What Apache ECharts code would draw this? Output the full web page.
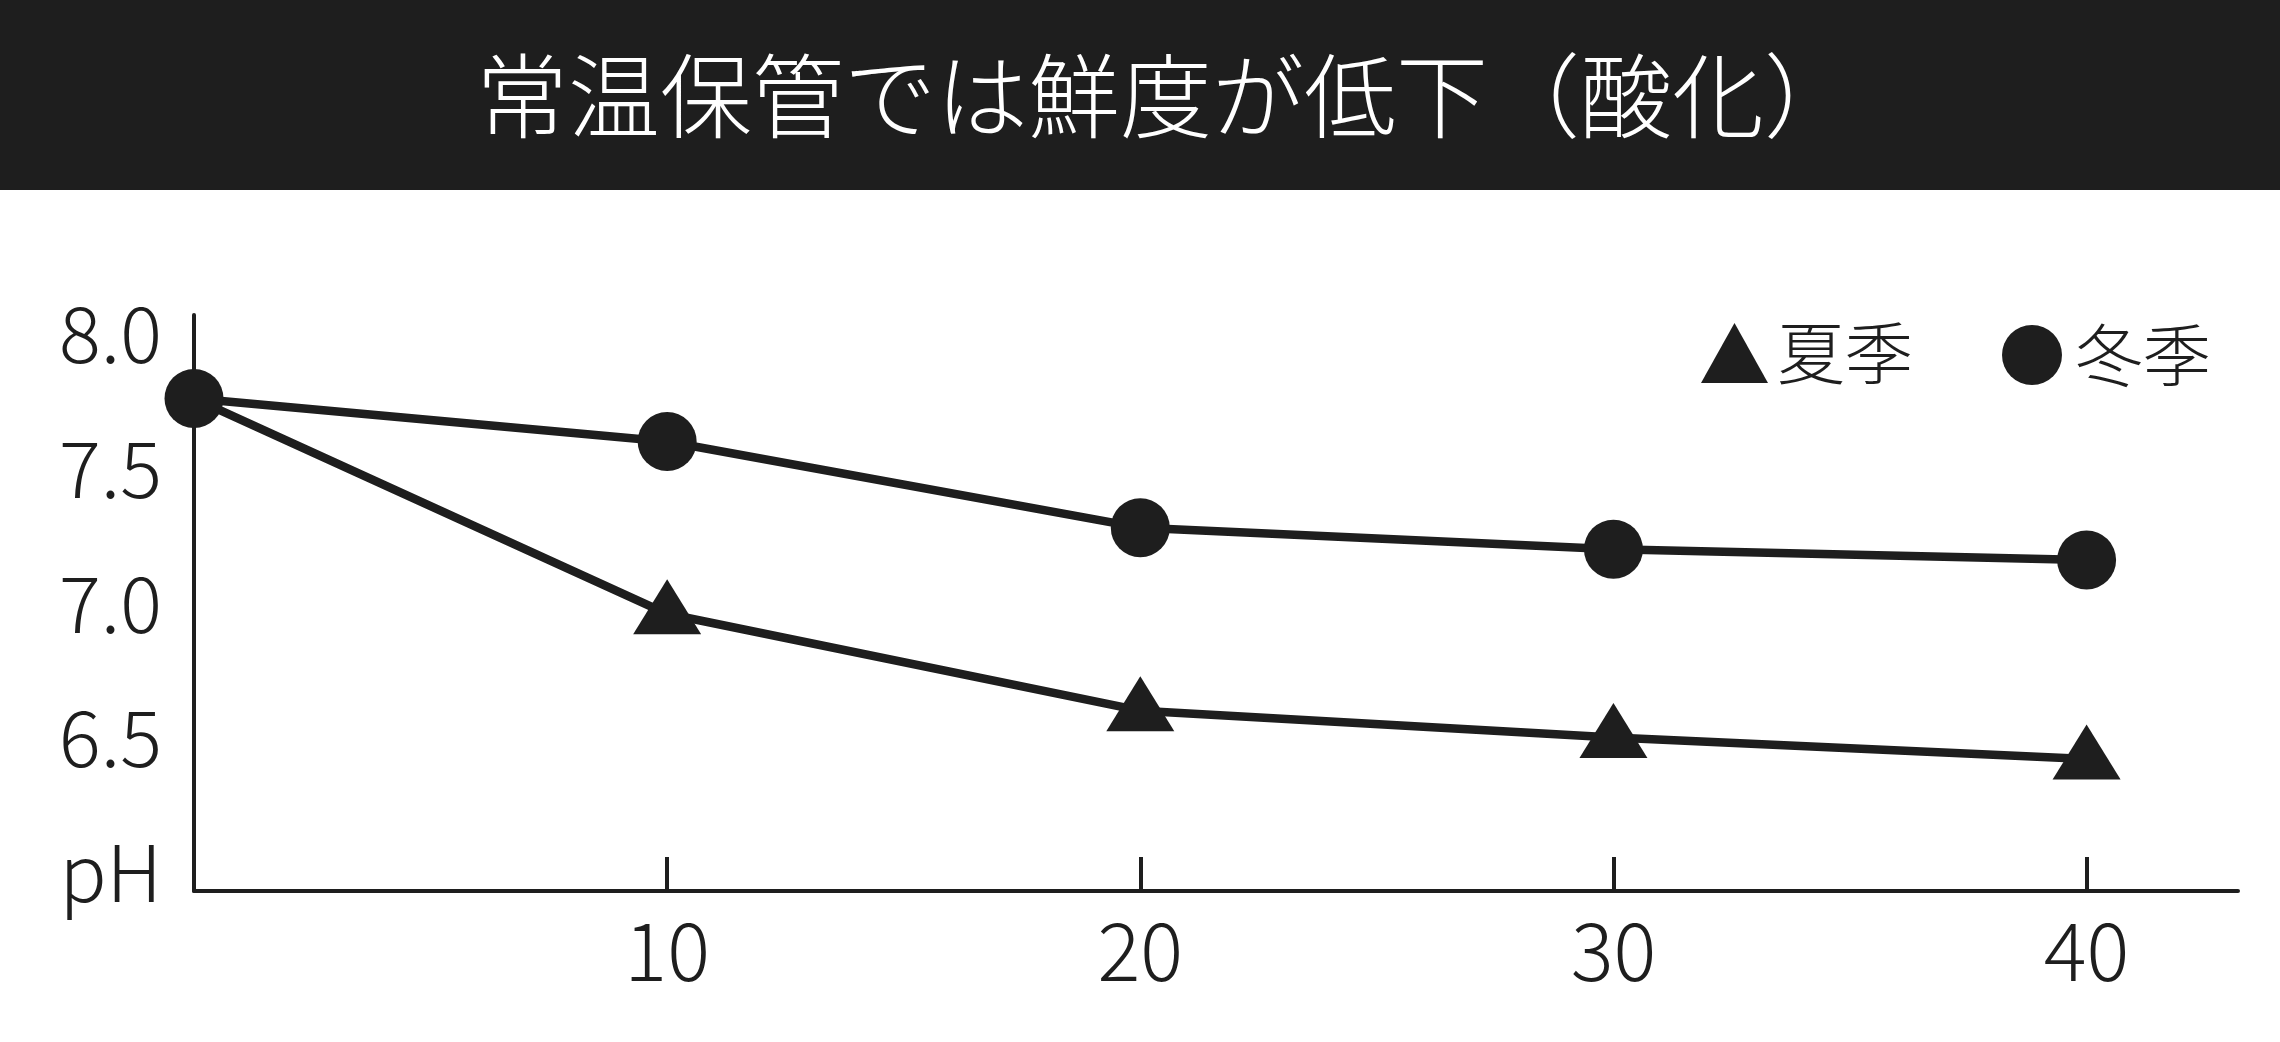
<!DOCTYPE html>
<html>
<head>
<meta charset="utf-8">
<script src="https://cdn.jsdelivr.net/npm/echarts@6/dist/echarts.min.js"></script>
<style>
html,body{margin:0;padding:0;background:#fff;}
#chart{width:2280px;height:1042px;}
</style>
</head>
<body>
<div id="chart"></div>
<script>
const titleText = '常温保管では鮮度が低下（酸化）';
const days = [0, 10, 20, 30, 40];
const summerPH = [7.76, 6.96, 6.60, 6.50, 6.42];
const winterPH = [7.76, 7.60, 7.28, 7.20, 7.16];
const xTickValues = [10, 20, 30, 40];
const yTickValues = [6.0, 6.5, 7.0, 7.5, 8.0];
const yTickLabels = ['pH', '6.5', '7.0', '7.5', '8.0'];
const seriesNames = ['夏季', '冬季'];

const INK = '#1e1e1e';
const FONT = '"Noto Sans CJK JP", "Noto Sans", sans-serif';

const chart = echarts.init(document.getElementById('chart'), null, {renderer: 'canvas'});
const pair = (xs, ys) => xs.map((x, i) => [x, ys[i]]);

chart.setOption({
  animation: false,
  backgroundColor: '#ffffff',
  graphic: [
    {type: 'rect', shape: {x: 0, y: 0, width: 2280, height: 190}, style: {fill: INK}, z: 0},
    {type: 'text', x: 1166, y: 96, z: 1,
     style: {text: titleText, fill: '#ffffff', font: '300 92px ' + FONT, align: 'center', verticalAlign: 'middle'}}
  ],
  grid: {left: 194, right: 42, top: 315, bottom: 151, containLabel: false},
  legend: [
    {data: [{name: seriesNames[0], icon: 'triangle'}], left: 1696, top: 314,
     itemWidth: 67, itemHeight: 60, itemGap: 0,
     textStyle: {fontSize: 68, fontWeight: 300, color: INK, fontFamily: FONT, padding: [0, 0, 0, 4]},
     itemStyle: {color: INK}},
    {data: [{name: seriesNames[1], icon: 'circle'}], left: 1997, top: 316,
     itemWidth: 60, itemHeight: 60, itemGap: 0,
     textStyle: {fontSize: 68, fontWeight: 300, color: INK, fontFamily: FONT, padding: [0, 0, 0, 8]},
     itemStyle: {color: INK}}
  ],
  xAxis: {
    type: 'value', min: 0, max: 43.2,
    axisLine: {show: true, onZero: false, lineStyle: {color: INK, width: 4}},
    axisTick: {show: true, inside: true, length: 34, customValues: xTickValues, lineStyle: {color: INK, width: 4}},
    axisLabel: {show: true, customValues: xTickValues, margin: 20, fontSize: 80, fontWeight: 300, color: INK, fontFamily: FONT,
                formatter: v => String(v)},
    splitLine: {show: false}
  },
  yAxis: {
    type: 'value', min: 5.93, max: 8.07,
    axisLine: {show: true, onZero: false, lineStyle: {color: INK, width: 4}},
    axisTick: {show: false},
    axisLabel: {show: true, customValues: yTickValues, margin: 32, fontSize: 78, fontWeight: 300, color: INK, fontFamily: FONT,
                formatter: v => {
                  const i = yTickValues.findIndex(t => Math.abs(t - v) < 1e-6);
                  return i >= 0 ? yTickLabels[i] : '';
                }},
    splitLine: {show: false}
  },
  series: [
    {
      name: seriesNames[0], type: 'line', data: pair(days, summerPH),
      symbol: (val, p) => p.dataIndex === 0 ? 'none' : 'triangle',
      symbolSize: [68, 55], symbolOffset: [0, -7], symbolKeepAspect: false,
      showAllSymbol: true,
      lineStyle: {color: INK, width: 8.5}, itemStyle: {color: INK}, z: 2
    },
    {
      name: seriesNames[1], type: 'line', data: pair(days, winterPH),
      symbol: 'circle', symbolSize: 59, showAllSymbol: true,
      lineStyle: {color: INK, width: 8.5}, itemStyle: {color: INK}, z: 3
    }
  ]
});
</script>
</body>
</html>
